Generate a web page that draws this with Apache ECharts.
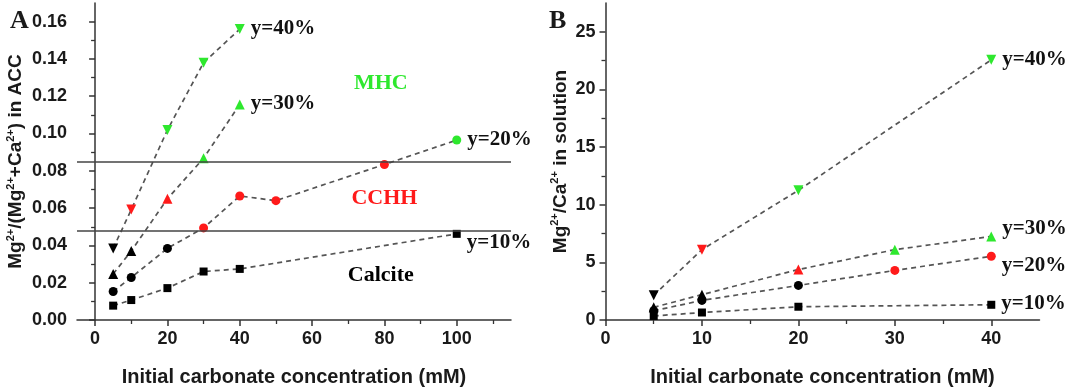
<!DOCTYPE html>
<html><head><meta charset="utf-8">
<script src="https://cdn.jsdelivr.net/npm/echarts@6/dist/echarts.min.js"></script>
<style>html,body{margin:0;padding:0;background:#fff}#c{width:1074px;height:392px}</style>
</head><body><div id="c"></div>
<script>
// ---------- data ----------
const seriesNames = ['y=10%', 'y=20%', 'y=30%', 'y=40%'];
// Panel A: Mg/(Mg+Ca) in ACC vs initial carbonate concentration (mM)
const xA10 = [5, 10, 20, 30, 40, 100];
const yA10 = [0.0077, 0.0107, 0.0171, 0.026, 0.0274, 0.0462];
const xA20 = [5, 10, 20, 30, 40, 50, 80, 100];
const yA20 = [0.0153, 0.0228, 0.0384, 0.0494, 0.0665, 0.064, 0.0834, 0.0965];
const xA30 = [5, 10, 20, 30, 40];
const yA30 = [0.0247, 0.037, 0.065, 0.0868, 0.1156];
const xA40 = [5, 10, 20, 30, 40];
const yA40 = [0.0384, 0.0592, 0.1019, 0.138, 0.156];
// phase boundaries in panel A
const boundaries = [0.048, 0.085];
const phaseNames = ['Calcite', 'CCHH', 'MHC'];
// Panel B: Mg/Ca in solution
const xB10 = [5, 10, 20, 40];
const yB10 = [0.35, 0.65, 1.15, 1.32];
const xB20 = [5, 10, 20, 30, 40];
const yB20 = [0.8, 1.7, 3.0, 4.3, 5.53];
const xB30 = [5, 10, 20, 30, 40];
const yB30 = [1.1, 2.2, 4.38, 6.1, 7.25];
const xB40 = [5, 10, 20, 40];
const yB40 = [2.15, 6.1, 11.25, 22.57];
// tick labels
const xTicksA = [0, 20, 40, 60, 80, 100];
const yTicksA = [0, 0.02, 0.04, 0.06, 0.08, 0.10, 0.12, 0.14, 0.16];
const xTicksB = [0, 10, 20, 30, 40];
const yTicksB = [0, 5, 10, 15, 20, 25];

// ---------- styles ----------
const phaseColors = ['#000000', '#ff1a1a', '#2ee82e'];
const symbols = ['rect', 'circle', 'triangle', 'triangle'];
const rotations = [0, 0, 0, 180];
const sizes = [8, 9, 10, 10];
const SANS = 'Liberation Sans, Arial, sans-serif';
const SERIF = 'Liberation Serif, Times New Roman, serif';

function phaseOf(v) { return v < boundaries[0] ? 0 : (v < boundaries[1] ? 1 : 2); }

const A = [[xA10, yA10], [xA20, yA20], [xA30, yA30], [xA40, yA40]];
const B = [[xB10, yB10], [xB20, yB20], [xB30, yB30], [xB40, yB40]];

const labelOffA = [[0, 9], [0, 0], [0, -1], [0, -1]];
const labelOffB = [[0, -1], [0, 9], [0, -8], [0, 0]];

function mids(list) { const r = []; for (let i = 0; i < list.length - 1; i++) r.push((list[i] + list[i + 1]) / 2); return r; }

function makeSeries(panel, idx, gridIdx) {
  const [xs, ys] = panel === 'A' ? A[idx] : B[idx];
  const [axs, ays] = A[idx];
  const off = panel === 'A' ? labelOffA[idx] : labelOffB[idx];
  const data = xs.map((x, i) => {
    let ph;
    if (panel === 'A') ph = phaseOf(ys[i]);
    else { const j = axs.indexOf(x); ph = phaseOf(ays[j]); }
    const item = { value: [x, ys[i]], itemStyle: { color: phaseColors[ph] } };
    if (i === xs.length - 1) {
      item.label = { show: true, position: 'right', distance: 6, offset: off, formatter: seriesNames[idx],
        fontFamily: SERIF, fontWeight: 'bold', fontSize: 21, color: '#111' };
    }
    return item;
  });
  return {
    type: 'line', name: panel + seriesNames[idx], xAxisIndex: gridIdx * 2, yAxisIndex: gridIdx * 2,
    data: data, symbol: symbols[idx], symbolRotate: rotations[idx], symbolSize: sizes[idx],
    showSymbol: true, silent: true, z: 3,
    lineStyle: { color: '#555', width: 1.7, type: [5, 4] },
    label: { show: false }
  };
}

const axisLineStyle = { show: true, lineStyle: { color: '#333', width: 1.5 } };
const tickLabel = { fontFamily: SANS, fontWeight: 'bold', fontSize: 18, color: '#1a1a1a' };

function mainX(grid, min, max, ticks, name) {
  return { type: 'value', gridIndex: grid, min: min, max: max, position: 'bottom',
    axisLine: axisLineStyle, splitLine: { show: false },
    axisTick: { show: true, inside: false, length: 6, customValues: ticks, lineStyle: { color: '#333', width: 1.5 } },
    axisLabel: Object.assign({ customValues: ticks, margin: 10 }, tickLabel),
    name: name, nameLocation: 'middle', nameGap: 47,
    nameTextStyle: { fontFamily: SANS, fontWeight: 'bold', fontSize: 20, color: '#1a1a1a' } };
}
function minorX(grid, min, max, ticks) {
  return { type: 'value', gridIndex: grid, min: min, max: max, position: 'bottom',
    axisLine: { show: false }, splitLine: { show: false }, axisLabel: { show: false },
    axisTick: { show: true, inside: false, length: 4, customValues: ticks, lineStyle: { color: '#333', width: 1.3 } } };
}
function mainY(grid, min, max, ticks, fmt, nameRich, gap) {
  return { type: 'value', gridIndex: grid, min: min, max: max, position: 'left',
    axisLine: axisLineStyle, splitLine: { show: false },
    axisTick: { show: true, inside: false, length: 6, customValues: ticks, lineStyle: { color: '#333', width: 1.5 } },
    axisLabel: Object.assign({ customValues: ticks, margin: 10, formatter: fmt }, tickLabel),
    name: nameRich, nameLocation: 'middle', nameGap: gap, nameRotate: 90,
    nameTextStyle: { fontFamily: SANS, fontWeight: 'bold', fontSize: 19, color: '#1a1a1a',
      rich: {
        n: { fontFamily: SANS, fontWeight: 'bold', fontSize: 19, color: '#1a1a1a', lineHeight: 22 },
        s: { fontFamily: SANS, fontWeight: 'bold', fontSize: 11, color: '#1a1a1a', lineHeight: 22, verticalAlign: 'top', padding: [0, 0, 10, 0] }
      } } };
}
function minorY(grid, min, max, ticks) {
  return { type: 'value', gridIndex: grid, min: min, max: max, position: 'left',
    axisLine: { show: false }, splitLine: { show: false }, axisLabel: { show: false },
    axisTick: { show: true, inside: false, length: 4, customValues: ticks, lineStyle: { color: '#333', width: 1.3 } } };
}

const series = [];
for (let i = 0; i < 4; i++) series.push(makeSeries('A', i, 0));
for (let i = 0; i < 4; i++) series.push(makeSeries('B', i, 1));

// phase boundary lines + phase labels (panel A)
series.push({
  type: 'line', xAxisIndex: 0, yAxisIndex: 0, data: [], silent: true, z: 2,
  markLine: { symbol: 'none', silent: true, animation: false, precision: 6, label: { show: false },
    lineStyle: { color: '#444', width: 1.6, type: 'solid' },
    data: boundaries.map(b => ({ yAxis: b })) },
  markPoint: { symbol: 'circle', symbolSize: 0, silent: true, animation: false,
    data: [
      { coord: [79, 0.024], name: phaseNames[0] },
      { coord: [80, 0.065], name: phaseNames[1] },
      { coord: [79, 0.127], name: phaseNames[2] }
    ].map((d, i) => Object.assign(d, { label: { show: true, position: 'inside', formatter: d.name,
      fontFamily: SERIF, fontWeight: 'bold', fontSize: 22, color: phaseColors[i] } })) }
});

const chart = echarts.init(document.getElementById('c'), null, { renderer: 'canvas' });
chart.setOption({
  animation: false,
  backgroundColor: '#ffffff',
  grid: [
    { left: 77, top: 3, width: 434, bottom: 70 },
    { left: 605.5, top: 3, width: 434, bottom: 69.3 }
  ],
  xAxis: [
    mainX(0, -5, 115, xTicksA, 'Initial carbonate concentration (mM)'),
    minorX(0, -5, 115, mids(xTicksA).concat([110])),
    mainX(1, 0, 45, xTicksB, 'Initial carbonate concentration (mM)'),
    minorX(1, 0, 45, mids(xTicksB))
  ],
  yAxis: [
    mainY(0, 0, 0.17, yTicksA, v => v.toFixed(2), '{n|Mg}{s|2+}{n|/(Mg}{s|2+}{n|+Ca}{s|2+}{n|) in ACC}', 50),
    minorY(0, 0, 0.17, mids(yTicksA)),
    mainY(1, 0, 27.5, yTicksB, v => String(v), '{n|Mg}{s|2+}{n|/Ca}{s|2+}{n| in solution}', 34),
    minorY(1, 0, 27.5, mids(yTicksB))
  ],
  graphic: [
    { type: 'text', left: 10, top: 8, style: { text: 'A', font: 'bold 26px ' + SERIF, fill: '#1a1a1a' } },
    { type: 'text', left: 549, top: 8, style: { text: 'B', font: 'bold 26px ' + SERIF, fill: '#1a1a1a' } }
  ],
  series: series
});
</script></body></html>
